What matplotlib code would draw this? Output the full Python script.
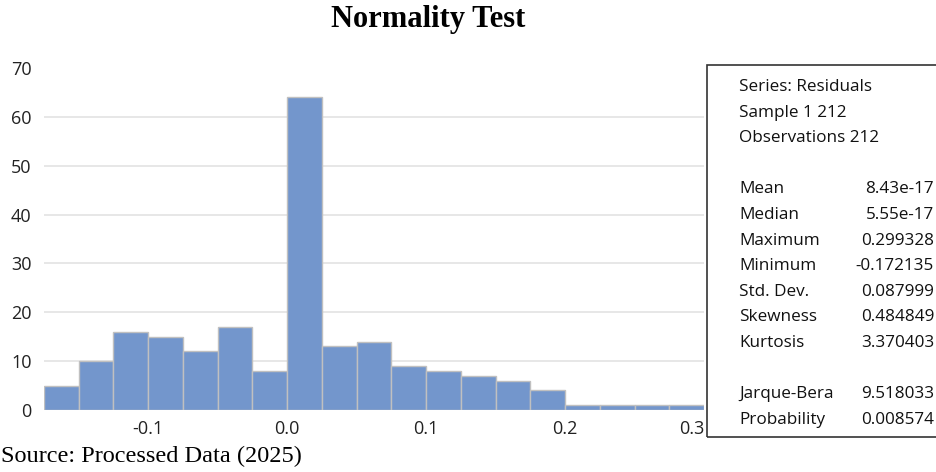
import numpy as np
import matplotlib.pyplot as plt
from matplotlib.patches import Rectangle

# histogram of residuals, bin width 0.025 starting at -0.175
bin_edges = np.round(np.arange(-0.175, 0.3001, 0.025), 3)
counts = [5, 10, 16, 15, 12, 17, 8, 64, 13, 14, 9, 8, 7, 6, 4, 1, 1, 1, 1]

x_ticks = [-0.1, 0.0, 0.1, 0.2, 0.3]
y_ticks = [0, 10, 20, 30, 40, 50, 60, 70]

stat_header = ["Series: Residuals", "Sample 1 212", "Observations 212"]
stat_names = ["Mean", "Median", "Maximum", "Minimum", "Std. Dev.", "Skewness", "Kurtosis"]
stat_values = ["8.43e-17", "5.55e-17", "0.299328", "-0.172135", "0.087999", "0.484849", "3.370403"]
test_names = ["Jarque-Bera", "Probability"]
test_values = ["9.518033", "0.008574"]

W, H = 936, 472
fig = plt.figure(figsize=(W / 100, H / 100), dpi=100)
ax = fig.add_axes([44 / W, (H - 410) / H, 660 / W, 342 / H])

ax.bar(bin_edges[:-1], counts, width=0.025, align="edge",
       color="#7396CC", edgecolor="#C0C0C0", linewidth=1.0, zorder=3)

ax.set_xlim(bin_edges[0], bin_edges[-1])
ax.set_ylim(0, 70)
ax.set_xticks(x_ticks)
ax.set_xticklabels([f"{t:.1f}" for t in x_ticks])
ax.set_yticks(y_ticks)
for s in ax.spines.values():
    s.set_visible(False)
ax.tick_params(length=0, labelsize=13, pad=7)
ax.tick_params(axis="y", pad=9)
for lbl in ax.get_xticklabels() + ax.get_yticklabels():
    lbl.set_fontfamily("Open Sans")
    lbl.set_color("#222222")
ax.get_xticklabels()[-1].set_horizontalalignment("right")
# gridlines only for 10..60 like the reference
for y in y_ticks[1:-1]:
    ax.axhline(y, color="#E3E3E3", linewidth=1.2, zorder=1)

fig.text(428 / W, 1 - 20 / H, "Normality Test", ha="center", va="center",
         fontsize=22, fontweight="bold", family="Liberation Serif")
fig.text(1 / W, 1 - 456 / H, "Source: Processed Data (2025)", ha="left", va="center",
         fontsize=17.5, family="Liberation Serif")

# stats box
box = Rectangle((707 / W, 1 - 437 / H), 240 / W, 372 / H, transform=fig.transFigure,
                fill=False, edgecolor="#333333", linewidth=1.2)
fig.patches.append(box)

row_h = 25.6
y0 = 87
lx, rx = 739 / W, 934 / W
tkw = dict(fontsize=12.3, family="Open Sans", va="center", color="#111111")
for i, t in enumerate(stat_header):
    fig.text(lx, 1 - (y0 + i * row_h) / H, t, ha="left", **tkw)
for i, (n, v) in enumerate(zip(stat_names, stat_values)):
    yy = 1 - (y0 + (i + 4) * row_h) / H
    fig.text(lx, yy, n, ha="left", **tkw)
    fig.text(rx, yy, v, ha="right", **tkw)
for i, (n, v) in enumerate(zip(test_names, test_values)):
    yy = 1 - (y0 + (i + 12) * row_h) / H
    fig.text(lx, yy, n, ha="left", **tkw)
    fig.text(rx, yy, v, ha="right", **tkw)

fig.savefig("out.png", dpi=100)
